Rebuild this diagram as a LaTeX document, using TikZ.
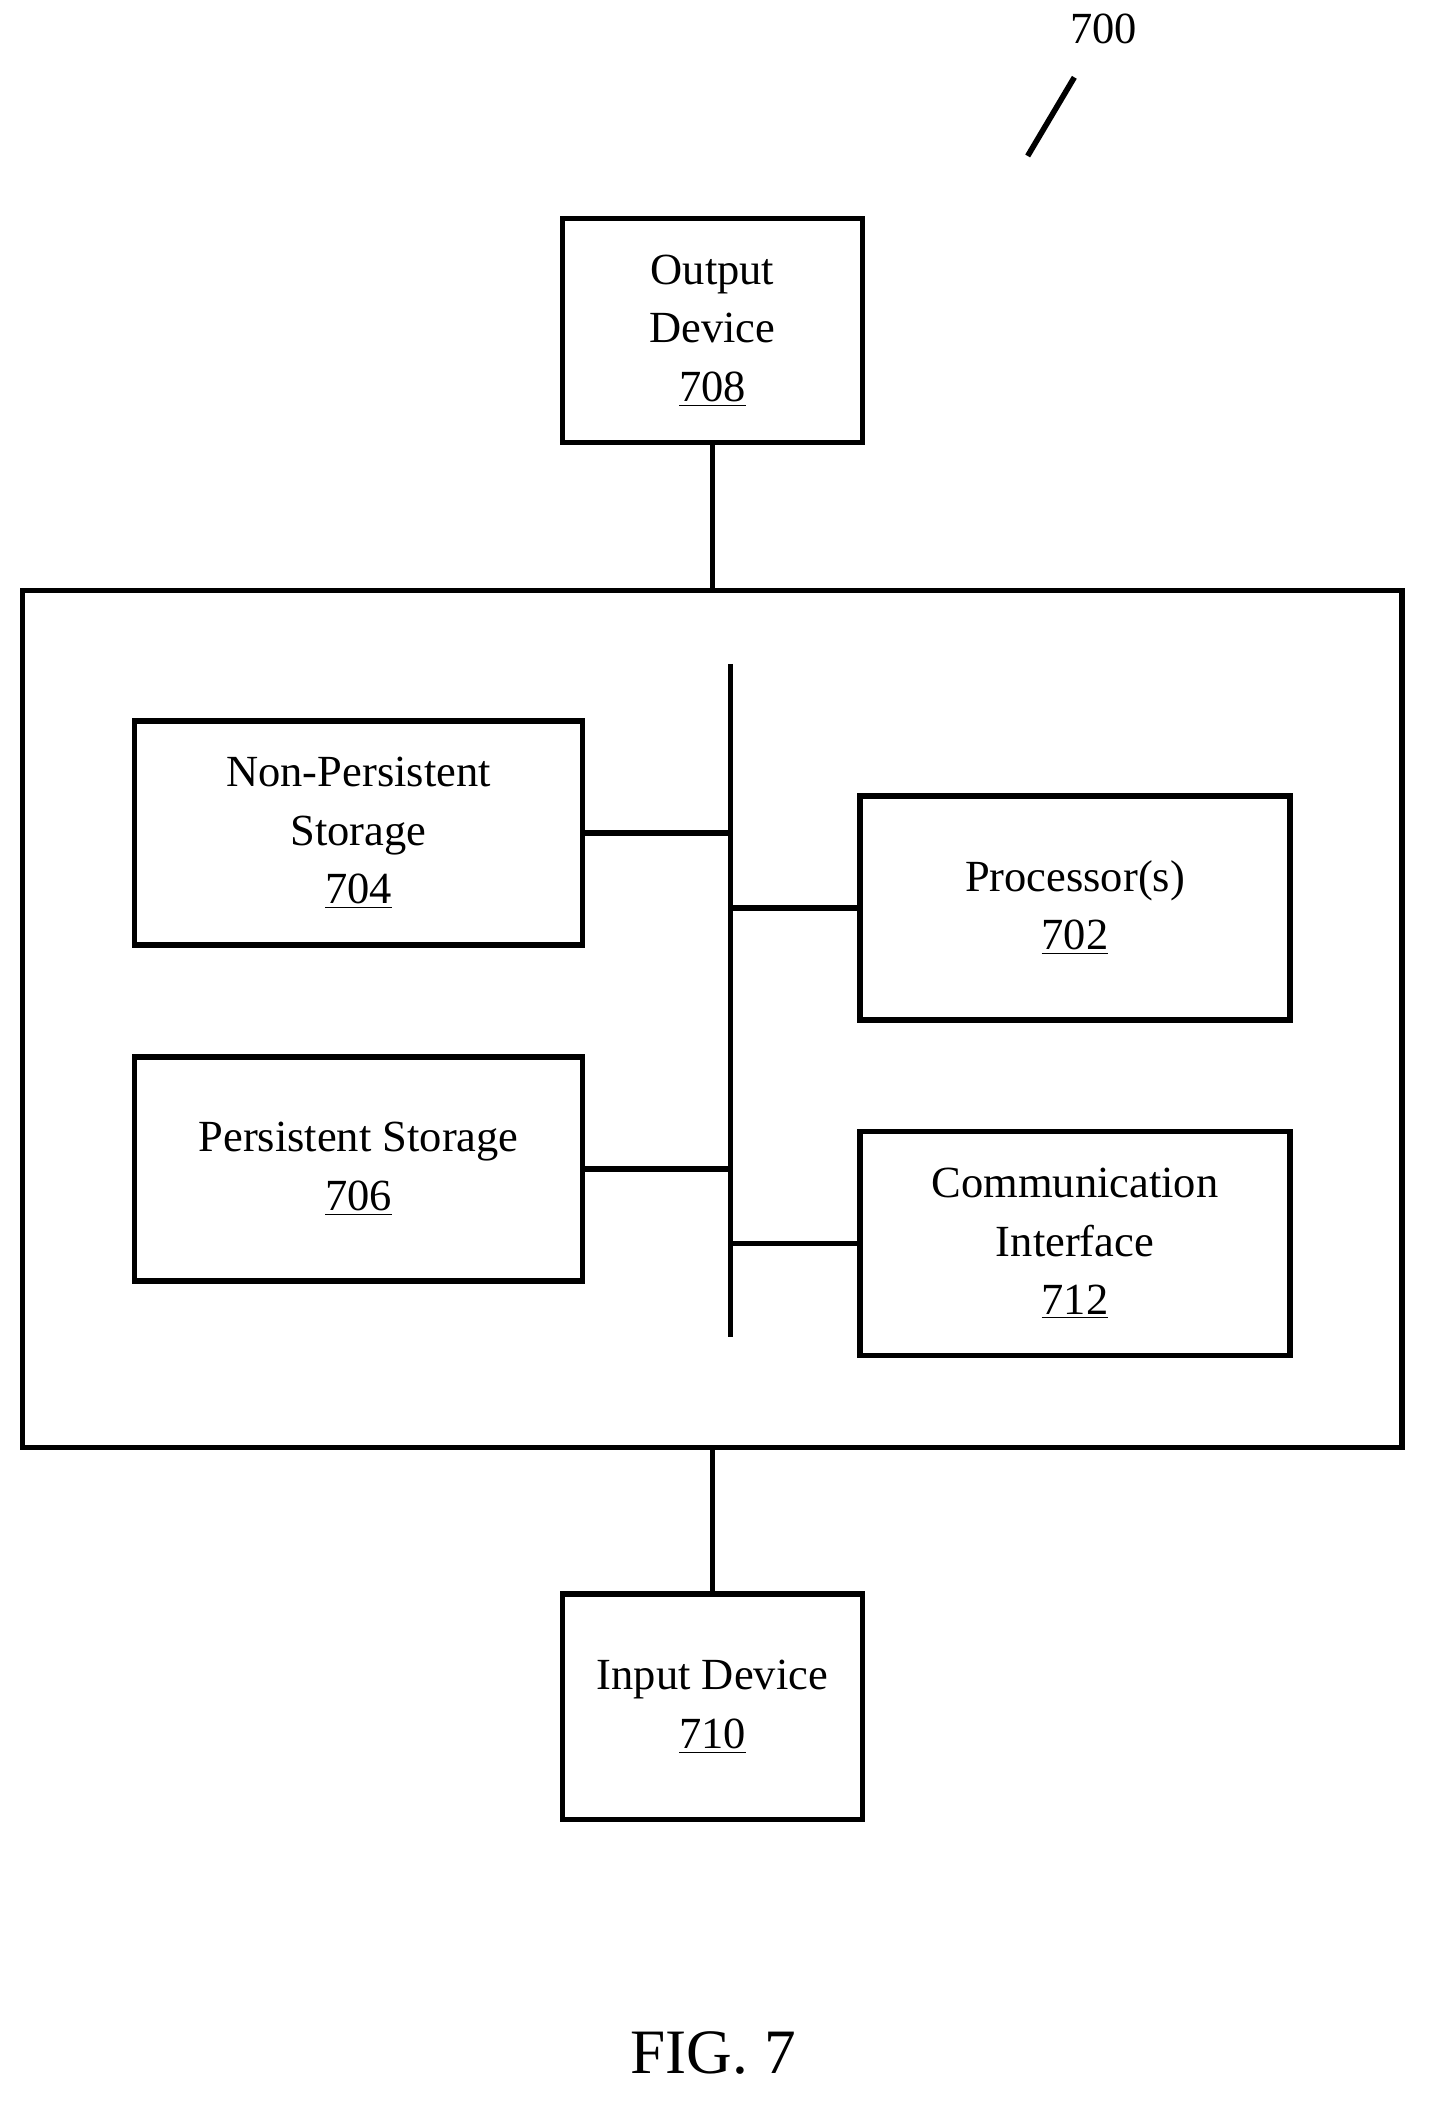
\documentclass[tikz,border=0pt]{standalone}
\usepackage{fontspec}
\setmainfont{Liberation Serif}
\begin{document}
\begin{tikzpicture}[x=0.02cm,y=-0.02cm,
  bx/.style={draw,line width=2.4pt,inner sep=0pt},
  ln/.style={line width=2.4pt},
  lbl/.style={align=center,font=\fontsize{19}{25}\selectfont}]
\useasboundingbox (0,0) rectangle (1076,1580);
\node[bx,minimum width=225*0.02cm,minimum height=168*0.02cm] (out) at (534.5,248) {};
\node[lbl] at (out) {Output\\Device\\\underline{708}};
\node[bx,minimum width=1035*0.02cm,minimum height=643*0.02cm] (sys) at (534.5,764.5) {};
\node[bx,minimum width=336*0.02cm,minimum height=168*0.02cm] (nps) at (269,625) {};
\node[lbl] at (nps) {Non-Persistent\\Storage\\\underline{704}};
\node[bx,minimum width=336*0.02cm,minimum height=168*0.02cm] (ps) at (269,877) {};
\node[lbl] at (ps) {Persistent Storage\\\underline{706}};
\node[bx,minimum width=323*0.02cm,minimum height=168*0.02cm] (proc) at (806.5,681) {};
\node[lbl] at (proc) {Processor(s)\\\underline{702}};
\node[bx,minimum width=323*0.02cm,minimum height=168*0.02cm] (comm) at (806.5,933) {};
\node[lbl] at (comm) {Communication\\Interface\\\underline{712}};
\node[bx,minimum width=225*0.02cm,minimum height=169*0.02cm] (in) at (534.5,1280.5) {};
\node[lbl] at (in) {Input Device\\\underline{710}};
\coordinate (bt) at (548,498);
\coordinate (bb) at (548,1003);
\draw[ln] (bt) -- (bb);
\draw[ln] (out.south) -- (sys.north);
\draw[ln] (sys.south) -- (in.north);
\draw[ln] (nps.east) -- (nps.east -| bt);
\draw[ln] (ps.east) -- (ps.east -| bt);
\draw[ln] (proc.west) -- (proc.west -| bt);
\draw[ln] (comm.west) -- (comm.west -| bt);
\node[font=\fontsize{19}{25}\selectfont] (ref) at (828,22) {700};
\coordinate (s1) at (806,58); \coordinate (s2) at (771,117);
\draw[ln] (s1) -- (s2);
\node[font=\fontsize{27}{30}\selectfont] (fig) at (535,1540) {FIG. 7};
\end{tikzpicture}
\end{document}
